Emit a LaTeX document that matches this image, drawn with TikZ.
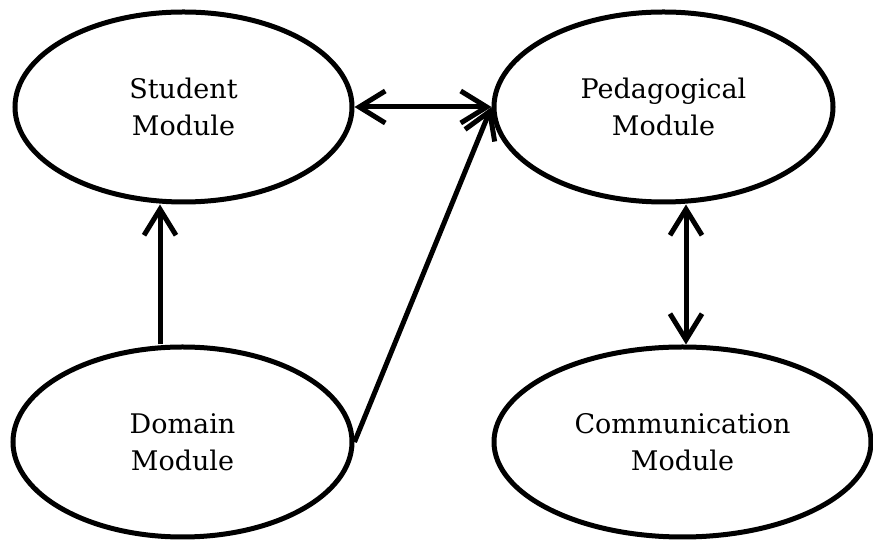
\documentclass[tikz,border=0pt]{standalone}
\usepackage{fontspec}
\setmainfont{DejaVu Serif}
\usetikzlibrary{shapes.geometric,arrows.meta}
\tikzset{vbarb/.tip={Straight Barb[length=26pt,width=32pt]}}
\begin{document}
\begin{tikzpicture}[x=1pt,y=1pt,
  module/.style={ellipse, draw, line width=5pt, inner sep=0pt, align=center,
    minimum height=190pt, font=\fontsize{27}{37}\selectfont},
  conn/.style={line width=5pt}]
\useasboundingbox (0,0) rectangle (873,540);
\node[module, minimum width=337pt] (student) at (183.5,433) {Student\\Module};
\node[module, minimum width=339pt] (ped) at (663.5,433) {Pedagogical\\Module};
\node[module, minimum width=339pt] (dom) at (182.5,98) {Domain\\Module};
\node[module, minimum width=377pt] (com) at (682.5,98) {Communication\\Module};
\coordinate (vx1) at (160,0);
\coordinate (vx2) at (686,0);
\draw[conn,-{vbarb}] (dom.north -| vx1) -- (student.south -| vx1);
\draw[conn,{vbarb}-{vbarb}] (ped.south -| vx2) -- (com.north -| vx2);
\draw[conn,{vbarb}-{vbarb}] (student.east) -- (ped.west);
\draw[conn,-{vbarb}] (dom.east) -- (ped.west);
\end{tikzpicture}
\end{document}
